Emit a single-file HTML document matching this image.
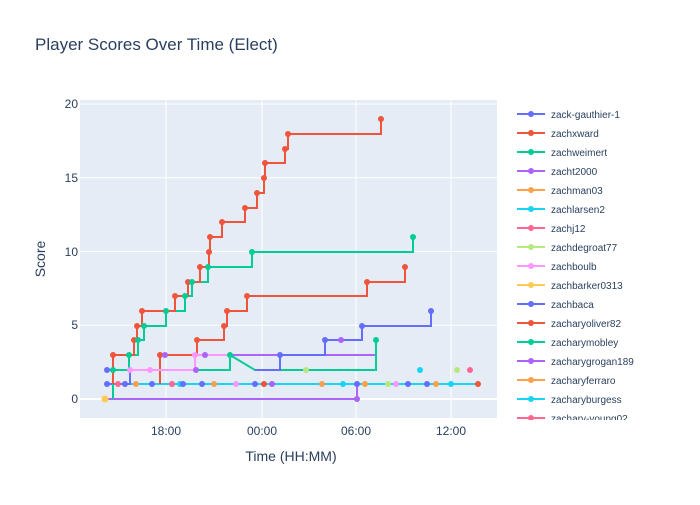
<!DOCTYPE html>
<html><head><meta charset="utf-8"><style>
body{margin:0;background:#fff;font-family:"Liberation Sans",sans-serif}
svg text{font-family:"Liberation Sans",sans-serif;fill:#2a3f5f}
</style></head><body>
<svg width="700" height="500" xmlns="http://www.w3.org/2000/svg">
<rect width="700" height="500" fill="#fff"/>
<text x="35" y="50" font-size="17">Player Scores Over Time (Elect)</text>
<rect x="80" y="100" width="417" height="318" fill="#e5ecf6"/>
<g stroke="#fff" stroke-width="1">
<line x1="80" x2="497" y1="399" y2="399" stroke-width="2"/>
<line x1="80" x2="497" y1="325.25" y2="325.25"/>
<line x1="80" x2="497" y1="251.5" y2="251.5"/>
<line x1="80" x2="497" y1="177.75" y2="177.75"/>
<line x1="80" x2="497" y1="104" y2="104"/>
<line x1="166" x2="166" y1="100" y2="418"/>
<line x1="262" x2="262" y1="100" y2="418"/>
<line x1="356" x2="356" y1="100" y2="418"/>
<line x1="451" x2="451" y1="100" y2="418"/>
</g>
<g font-size="12" text-anchor="end">
<text x="78" y="403">0</text><text x="78" y="329">5</text><text x="78" y="256">10</text><text x="78" y="182">15</text><text x="78" y="108">20</text>
</g>
<g font-size="12" text-anchor="middle">
<text x="166" y="435">18:00</text><text x="262" y="435">00:00</text><text x="356" y="435">06:00</text><text x="451" y="435">12:00</text>
</g>
<text x="291" y="461" font-size="14" text-anchor="middle">Time (HH:MM)</text>
<text x="45" y="259" font-size="14" text-anchor="middle" transform="rotate(-90 45 259)">Score</text>
<g fill="none" stroke-width="2">
<polyline stroke="#ab63fa" points="105,399 357,399 357,384 478,384"/>
<polyline stroke="#19d3f3" points="105,384 478,384"/>
<polyline stroke="#ab63fa" points="165,355 205,355 377,355"/>
<polyline stroke="#636efa" points="107,370 130,370 130,384 108,384"/>
<polyline stroke="#00cc96" points="113,399 113,370 129,370 129,355 138,355 138,340 144,340 144,326 166,326 166,311 185,311 185,296 192,296 192,282 208,282 208,267 252,267 252,252 413,252 413,237"/>
<polyline stroke="#00cc96" points="130,370 230,370 230,355 255,370 376,370 376,340"/>
<polyline stroke="#ef553b" points="113,384 113,355 134,355 134,340 137,340 137,326 142,326 142,311 166,311 175,311 175,296 188,296 188,282 200,282 200,267 209,267 209,252 210,252 210,237 222,237 222,222 245,222 245,208 257,208 257,193 264,193 264,178 265,178 265,163 285,163 285,149 288,149 288,134 381,134 381,119"/>
<polyline stroke="#ef553b" points="160,384 160,355 197,355 197,340 224,340 224,326 227,326 227,311 247,311 247,296 367,296 367,282 405,282 405,267"/>
<polyline stroke="#636efa" points="255,370 280,370 280,355 325,355 325,340 341,340 362,340 362,326 431,326 431,311"/>
<polyline stroke="#ff97ff" points="130,370 165,370 195,370 195,355 230,355"/>
</g>
<g>
<circle cx="105" cy="399" r="3.5" fill="#fecb52"/>
<g fill="#ef553b"><circle cx="113" cy="355" r="3"/><circle cx="134" cy="340" r="3"/><circle cx="137" cy="326" r="3"/><circle cx="142" cy="311" r="3"/><circle cx="175" cy="296" r="3"/><circle cx="188" cy="282" r="3"/><circle cx="200" cy="267" r="3"/><circle cx="209" cy="252" r="3"/><circle cx="210" cy="237" r="3"/><circle cx="222" cy="222" r="3"/><circle cx="245" cy="208" r="3"/><circle cx="257" cy="193" r="3"/><circle cx="264" cy="178" r="3"/><circle cx="265" cy="163" r="3"/><circle cx="285" cy="149" r="3"/><circle cx="288" cy="134" r="3"/><circle cx="381" cy="119" r="3"/><circle cx="160" cy="355" r="3"/><circle cx="197" cy="340" r="3"/><circle cx="224" cy="326" r="3"/><circle cx="227" cy="311" r="3"/><circle cx="247" cy="296" r="3"/><circle cx="367" cy="282" r="3"/><circle cx="405" cy="267" r="3"/><circle cx="478" cy="384" r="3"/><circle cx="264" cy="384" r="3"/></g>
<g fill="#00cc96"><circle cx="113" cy="370" r="3"/><circle cx="129" cy="355" r="3"/><circle cx="138" cy="340" r="3"/><circle cx="144" cy="326" r="3"/><circle cx="166" cy="311" r="3"/><circle cx="185" cy="296" r="3"/><circle cx="192" cy="282" r="3"/><circle cx="208" cy="267" r="3"/><circle cx="252" cy="252" r="3"/><circle cx="413" cy="237" r="3"/><circle cx="230" cy="355" r="3"/><circle cx="376" cy="340" r="3"/></g>
<g fill="#636efa"><circle cx="107" cy="370" r="3"/><circle cx="325" cy="340" r="3"/><circle cx="362" cy="326" r="3"/><circle cx="431" cy="311" r="3"/><circle cx="280" cy="355" r="3"/><circle cx="408" cy="384" r="3"/></g>
<g fill="#ab63fa"><circle cx="357" cy="399" r="3"/><circle cx="165" cy="355" r="3"/><circle cx="205" cy="355" r="3"/><circle cx="341" cy="340" r="3"/><circle cx="196" cy="370" r="3"/><circle cx="272" cy="384" r="3"/></g>
<g fill="#ff97ff"><circle cx="130" cy="370" r="3"/><circle cx="150" cy="370" r="3"/><circle cx="195" cy="355" r="3"/><circle cx="236" cy="384" r="3"/><circle cx="396" cy="384" r="3"/></g>
<g fill="#19d3f3"><circle cx="343" cy="384" r="3"/><circle cx="420" cy="370" r="3"/><circle cx="451" cy="384" r="3"/><circle cx="180" cy="384" r="3"/></g>
<g fill="#fea04b"><circle cx="136" cy="384" r="3"/><circle cx="214" cy="384" r="3"/><circle cx="322" cy="384" r="3"/><circle cx="365" cy="384" r="3"/><circle cx="436" cy="384" r="3"/></g>
<g fill="#b6e880"><circle cx="306" cy="370" r="3"/><circle cx="457" cy="370" r="3"/><circle cx="388" cy="384" r="3"/></g>
<g fill="#ff6692"><circle cx="470" cy="370" r="3"/><circle cx="118" cy="384" r="3"/><circle cx="172" cy="384" r="3"/></g>
<g fill="#636efa"><circle cx="107" cy="384" r="3"/><circle cx="125" cy="384" r="3"/><circle cx="152" cy="384" r="3"/><circle cx="183" cy="384" r="3"/><circle cx="202" cy="384" r="3"/><circle cx="255" cy="384" r="3"/><circle cx="357" cy="384" r="3"/><circle cx="427" cy="384" r="3"/></g>
</g>
<g font-size="10">
<g stroke-width="2">
<line x1="517" x2="545" y1="114" y2="114" stroke="#636efa"/><circle cx="531" cy="114" r="3" fill="#636efa"/><text x="551" y="118">zack-gauthier-1</text>
<line x1="517" x2="545" y1="133" y2="133" stroke="#ef553b"/><circle cx="531" cy="133" r="3" fill="#ef553b"/><text x="551" y="137">zachxward</text>
<line x1="517" x2="545" y1="152" y2="152" stroke="#00cc96"/><circle cx="531" cy="152" r="3" fill="#00cc96"/><text x="551" y="156">zachweimert</text>
<line x1="517" x2="545" y1="171" y2="171" stroke="#ab63fa"/><circle cx="531" cy="171" r="3" fill="#ab63fa"/><text x="551" y="175">zacht2000</text>
<line x1="517" x2="545" y1="190" y2="190" stroke="#fea04b"/><circle cx="531" cy="190" r="3" fill="#fea04b"/><text x="551" y="194">zachman03</text>
<line x1="517" x2="545" y1="209" y2="209" stroke="#19d3f3"/><circle cx="531" cy="209" r="3" fill="#19d3f3"/><text x="551" y="213">zachlarsen2</text>
<line x1="517" x2="545" y1="228" y2="228" stroke="#ff6692"/><circle cx="531" cy="228" r="3" fill="#ff6692"/><text x="551" y="232">zachj12</text>
<line x1="517" x2="545" y1="247" y2="247" stroke="#b6e880"/><circle cx="531" cy="247" r="3" fill="#b6e880"/><text x="551" y="251">zachdegroat77</text>
<line x1="517" x2="545" y1="266" y2="266" stroke="#ff97ff"/><circle cx="531" cy="266" r="3" fill="#ff97ff"/><text x="551" y="270">zachboulb</text>
<line x1="517" x2="545" y1="285" y2="285" stroke="#fecb52"/><circle cx="531" cy="285" r="3" fill="#fecb52"/><text x="551" y="289">zachbarker0313</text>
<line x1="517" x2="545" y1="304" y2="304" stroke="#636efa"/><circle cx="531" cy="304" r="3" fill="#636efa"/><text x="551" y="308">zachbaca</text>
<line x1="517" x2="545" y1="323" y2="323" stroke="#ef553b"/><circle cx="531" cy="323" r="3" fill="#ef553b"/><text x="551" y="327">zacharyoliver82</text>
<line x1="517" x2="545" y1="342" y2="342" stroke="#00cc96"/><circle cx="531" cy="342" r="3" fill="#00cc96"/><text x="551" y="346">zacharymobley</text>
<line x1="517" x2="545" y1="361" y2="361" stroke="#ab63fa"/><circle cx="531" cy="361" r="3" fill="#ab63fa"/><text x="551" y="365">zacharygrogan189</text>
<line x1="517" x2="545" y1="380" y2="380" stroke="#fea04b"/><circle cx="531" cy="380" r="3" fill="#fea04b"/><text x="551" y="384">zacharyferraro</text>
<line x1="517" x2="545" y1="399" y2="399" stroke="#19d3f3"/><circle cx="531" cy="399" r="3" fill="#19d3f3"/><text x="551" y="403">zacharyburgess</text>
<line x1="517" x2="545" y1="418" y2="418" stroke="#ff6692"/><circle cx="531" cy="418" r="3" fill="#ff6692"/><text x="551" y="422">zachary-young02</text>
</g>
<rect x="505" y="420" width="195" height="20" fill="#fff"/>
</g>
</svg>
</body></html>
